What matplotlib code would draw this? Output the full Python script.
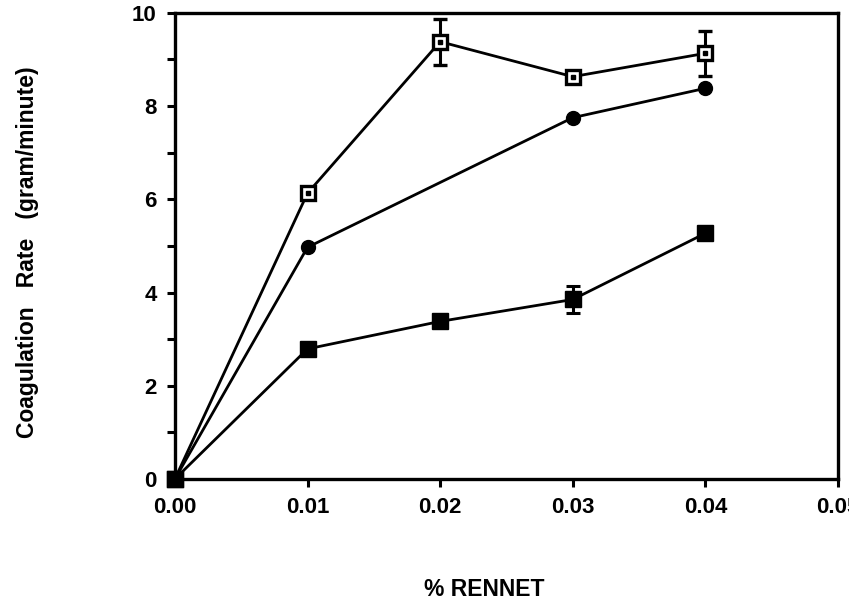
import numpy as np
import matplotlib
matplotlib.use('Agg')
import matplotlib.pyplot as plt
from matplotlib.ticker import MultipleLocator

plt.rcParams['font.family'] = ['Liberation Sans', 'DejaVu Sans']

# 数据
rennet = [0.00, 0.01, 0.02, 0.03, 0.04]

open_sq = [0.0, 6.13, 9.38, 8.63, 9.13]
open_sq_err = [0.0, 0.0, 0.49, 0.0, 0.49]

circle_x = [0.00, 0.01, 0.03, 0.04]
circle_y = [0.0, 4.97, 7.75, 8.38]

filled_sq = [0.0, 2.79, 3.38, 3.85, 5.27]
filled_sq_err = [0.0, 0.0, 0.0, 0.29, 0.08]

fig = plt.figure(figsize=(8.49, 6.09), dpi=100)
ax = fig.add_axes([0.206, 0.2135, 0.781, 0.7655])

lw = 2.0
# 空心方块
ax.errorbar(rennet, open_sq, yerr=open_sq_err, color='black', lw=lw,
            marker='s', ms=10, mfc='white', mec='black', mew=2.4,
            capsize=5, capthick=2.2, elinewidth=2.2, clip_on=False, zorder=3)
ax.plot(rennet, open_sq, 's', color='black', ms=2.5, clip_on=False, zorder=4)

# 实心圆
ax.plot(circle_x, circle_y, color='black', lw=lw, marker='o', ms=10,
        clip_on=False, zorder=3)

# 实心方块
ax.errorbar(rennet, filled_sq, yerr=filled_sq_err, color='black', lw=lw,
            marker='s', ms=11, capsize=5, capthick=2.2, elinewidth=2.2,
            clip_on=False, zorder=3)

ax.set_xlim(0, 0.05)
ax.set_ylim(0, 10)
ax.xaxis.set_major_locator(MultipleLocator(0.01))
ax.yaxis.set_major_locator(MultipleLocator(2))
ax.yaxis.set_minor_locator(MultipleLocator(1))
ax.xaxis.set_major_formatter(plt.FormatStrFormatter('%.2f'))

for s in ax.spines.values():
    s.set_linewidth(2.4)
ax.tick_params(which='both', direction='out', length=6, width=2.2,
               labelsize=16, pad=7)
for t in ax.get_xticklabels() + ax.get_yticklabels():
    t.set_fontweight('bold')

ax.set_xlabel('% RENNET', fontsize=16.5, fontweight='bold')
ax.xaxis.set_label_coords(0.467, -0.212)
ax.set_ylabel('Coagulation   Rate   (gram/minute)', fontsize=16.5,
              fontweight='bold')
ax.yaxis.set_label_coords(-0.205, 0.487)

fig.savefig('out.png', dpi=100)
